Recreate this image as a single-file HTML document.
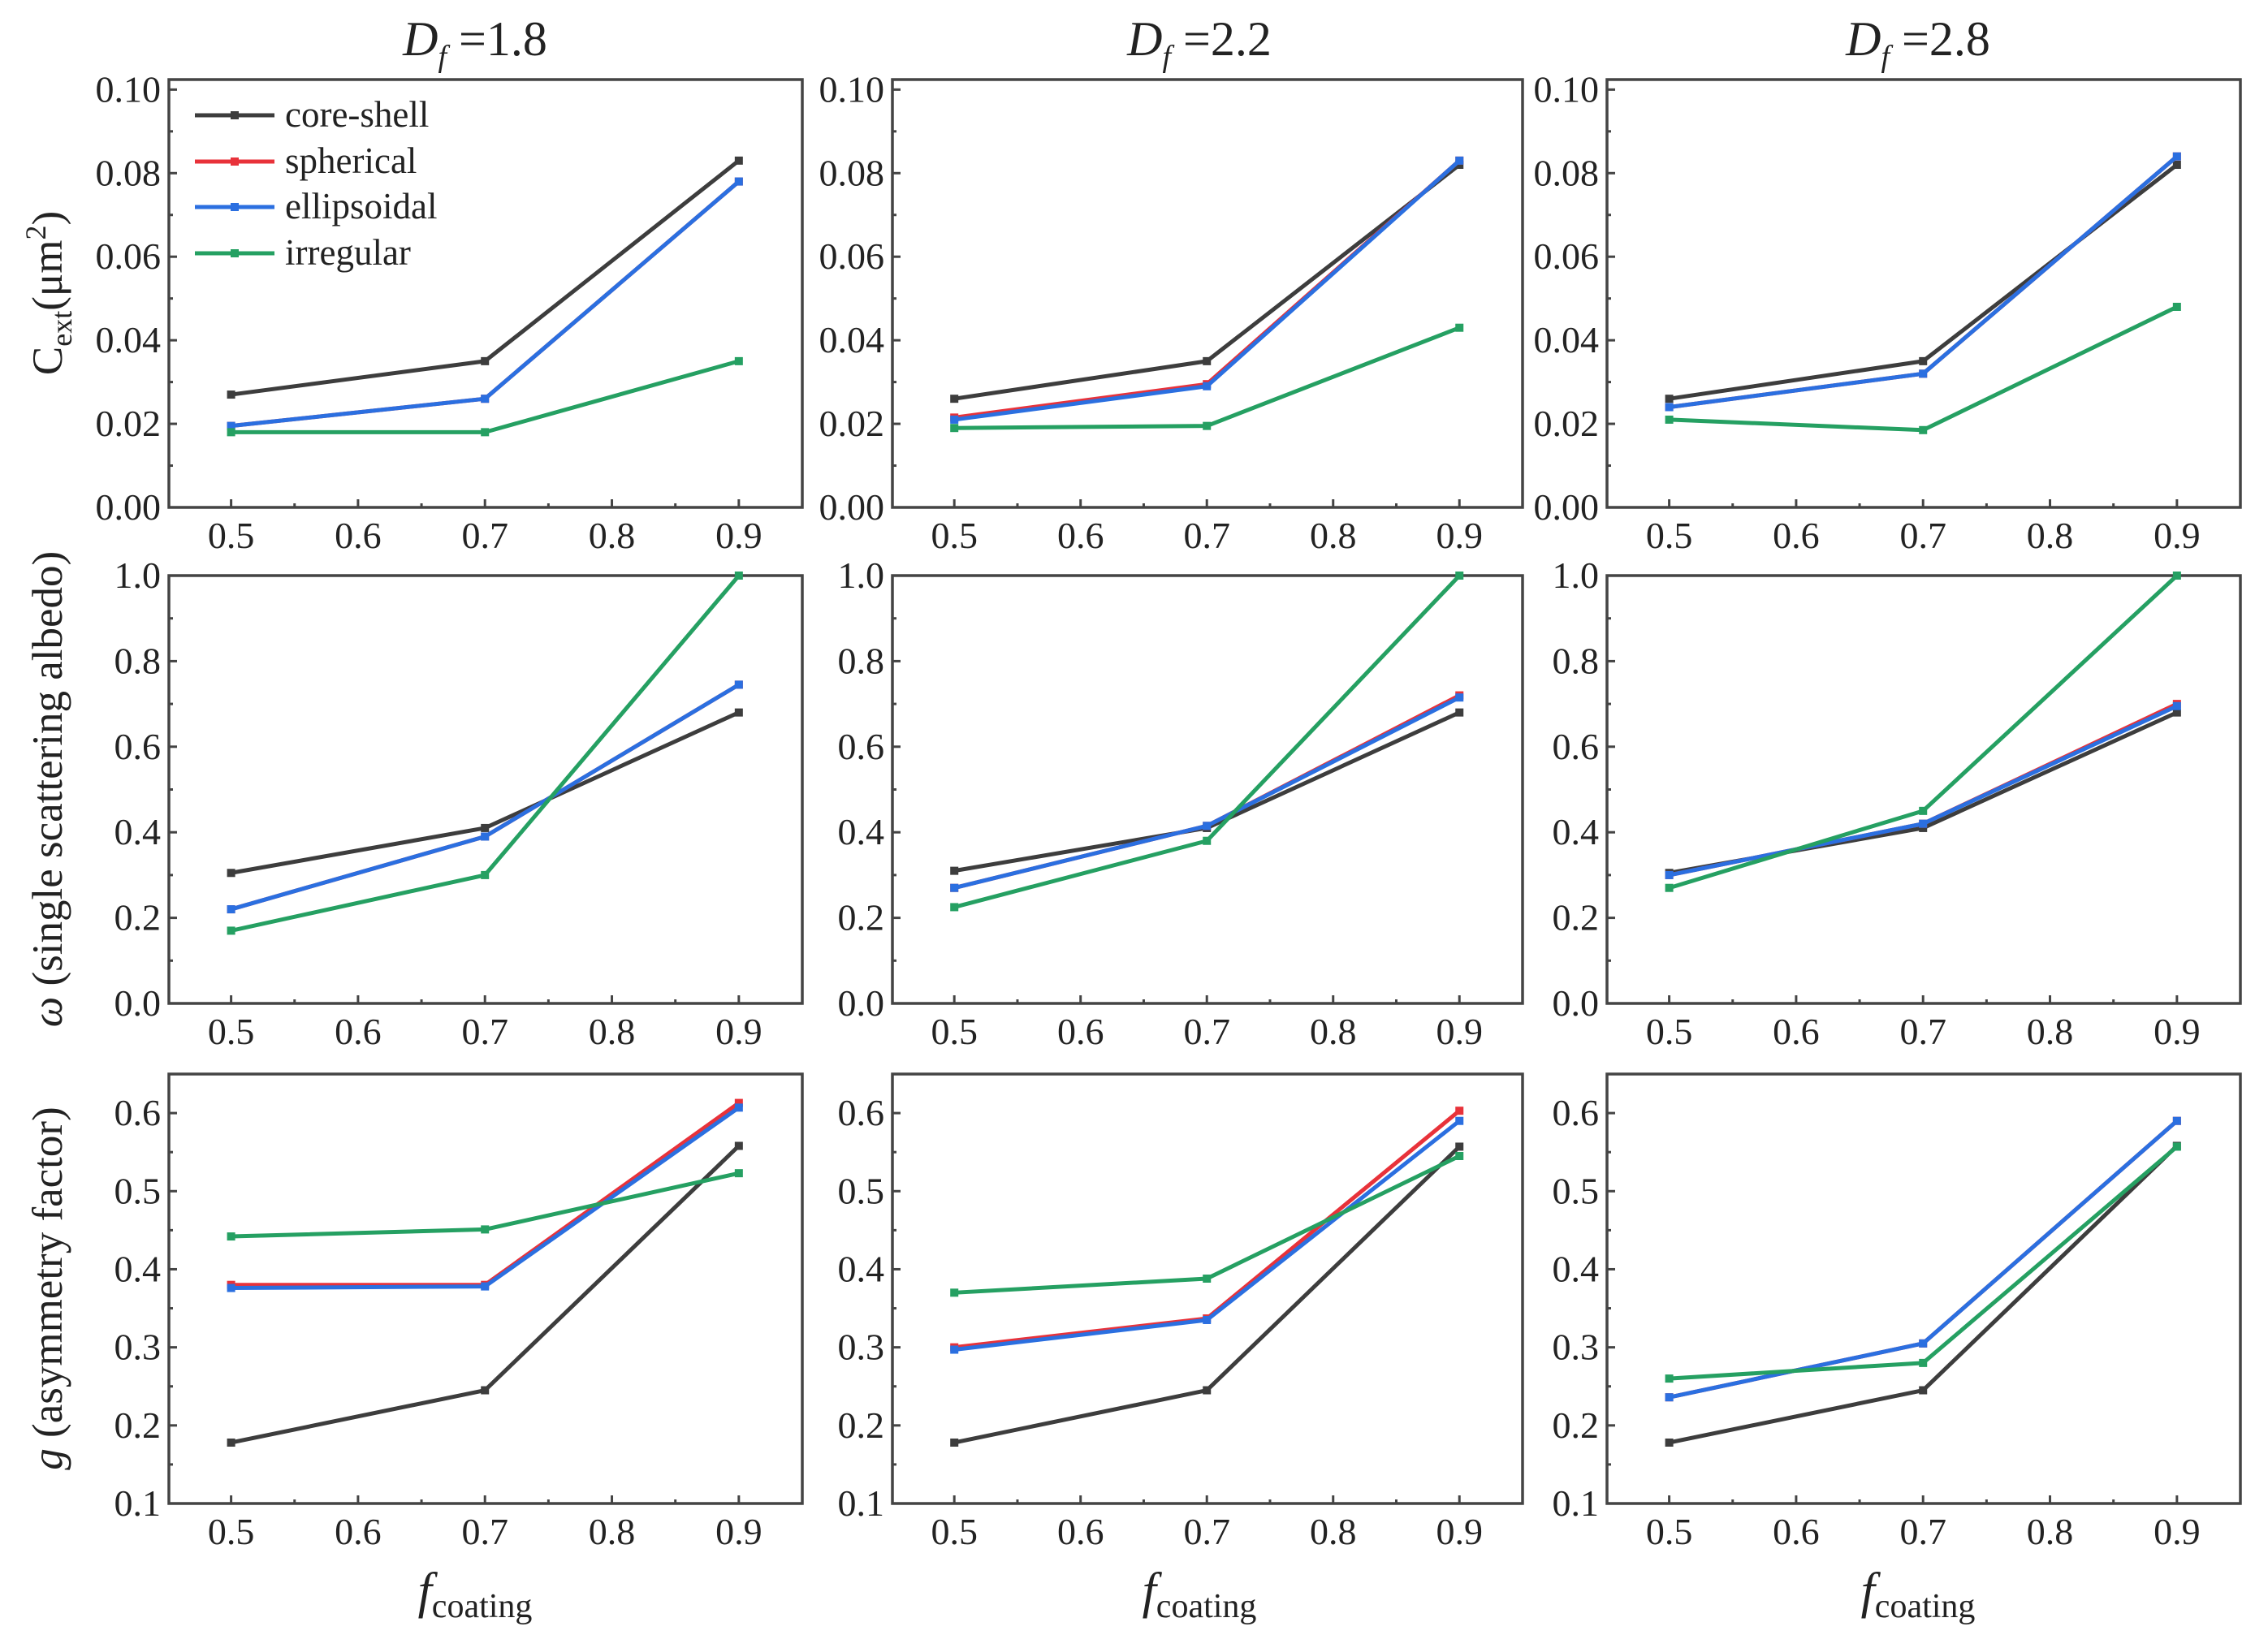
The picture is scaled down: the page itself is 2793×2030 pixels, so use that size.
<!DOCTYPE html>
<html><head><meta charset="utf-8"><style>
html,body{margin:0;padding:0;background:#fff;}
svg{display:block;font-family:"Liberation Serif",serif;}
</style></head><body>
<svg id="fig" width="2793" height="2030" viewBox="0 0 2793 2030" xmlns="http://www.w3.org/2000/svg"></svg>
<script>
const xCats = [0.5, 0.7, 0.9];
const xTicks = [0.5, 0.6, 0.7, 0.8, 0.9];
const seriesNames = ["core-shell","spherical","ellipsoidal","irregular"];
const seriesColors = ["#3d3d3d","#e8323a","#2b6fe0","#25a062"];
const colTitles = ["1.8","2.2","2.8"];
// Row 1: C_ext
const cext_cs = [[0.027,0.035,0.083],[0.026,0.035,0.082],[0.026,0.035,0.082]];
const cext_sph = [[0.0195,0.026,0.078],[0.0215,0.0295,0.083],[0.024,0.032,0.084]];
const cext_ell = [[0.0195,0.026,0.078],[0.021,0.029,0.083],[0.024,0.032,0.084]];
const cext_irr = [[0.018,0.018,0.035],[0.019,0.0195,0.043],[0.021,0.0185,0.048]];
// Row 2: omega
const w_cs = [[0.305,0.41,0.68],[0.31,0.41,0.68],[0.305,0.41,0.68]];
const w_sph = [[0.22,0.39,0.745],[0.27,0.415,0.72],[0.30,0.42,0.70]];
const w_ell = [[0.22,0.39,0.745],[0.27,0.415,0.715],[0.30,0.42,0.695]];
const w_irr = [[0.17,0.30,1.0],[0.225,0.38,1.0],[0.27,0.45,1.0]];
// Row 3: g
const g_cs = [[0.178,0.245,0.558],[0.178,0.245,0.557],[0.178,0.245,0.558]];
const g_sph = [[0.38,0.38,0.613],[0.30,0.337,0.603],[0.236,0.305,0.59]];
const g_ell = [[0.376,0.378,0.607],[0.297,0.335,0.59],[0.236,0.305,0.59]];
const g_irr = [[0.442,0.451,0.523],[0.37,0.388,0.545],[0.26,0.28,0.557]];
const yTicks1 = ["0.00","0.02","0.04","0.06","0.08","0.10"];
const yTicks2 = ["0.0","0.2","0.4","0.6","0.8","1.0"];
const yTicks3 = ["0.1","0.2","0.3","0.4","0.5","0.6"];

const NS="http://www.w3.org/2000/svg";
const svg=document.getElementById('fig');
function mk(tag,attrs,parent){const e=document.createElementNS(NS,tag);for(const k in attrs)e.setAttribute(k,attrs[k]);(parent||svg).appendChild(e);return e;}
const colX=[[208,988],[1099,1875],[1979,2759]];
const rowY=[[98,625],[709,1236],[1323,1852]];
const xDom=[0.451,0.95];
const rows=[
 {dom:[0,0.1024],ticks:yTicks1,minor:0.01,data:[cext_cs,cext_sph,cext_ell,cext_irr],nm:"cext"},
 {dom:[0,1.0],ticks:yTicks2,minor:0.1,data:[w_cs,w_sph,w_ell,w_irr],nm:"albedo"},
 {dom:[0.1,0.65],ticks:yTicks3,minor:0.05,data:[g_cs,g_sph,g_ell,g_irr],nm:"asym"}
];
for(let r=0;r<3;r++){for(let c=0;c<3;c++){
 const R=rows[r];const[x0,x1]=colX[c];const[y0,y1]=rowY[r];
 const sx=v=>x0+(v-xDom[0])/(xDom[1]-xDom[0])*(x1-x0);
 const sy=v=>y1-(v-R.dom[0])/(R.dom[1]-R.dom[0])*(y1-y0);
 const g=mk('g',{});
 
 
 const box=mk('rect',{x:x0,y:y0,width:x1-x0,height:y1-y0,fill:'none',stroke:'#444','stroke-width':3.5},g);
 
 for(let i=0;i<xTicks.length;i++){const X=sx(xTicks[i]);
  mk('line',{x1:X,x2:X,y1:y1,y2:y1-10,stroke:'#444','stroke-width':3},g);
  if(i<xTicks.length-1){const m=sx(xTicks[i]+0.05);mk('line',{x1:m,x2:m,y1:y1,y2:y1-5,stroke:'#444','stroke-width':3},g);}
  const t=mk('text',{x:X,y:y1+50,'text-anchor':'middle','font-size':46,fill:'#222'},g);t.textContent=xTicks[i].toFixed(1);
  }
 for(let i=0;i<R.ticks.length;i++){const v=parseFloat(R.ticks[i]);const Y=sy(v);
  mk('line',{x1:x0,x2:x0+10,y1:Y,y2:Y,stroke:'#444','stroke-width':3},g);
  const mv=v+R.minor; if(mv<R.dom[1]){const mY=sy(mv);mk('line',{x1:x0,x2:x0+5,y1:mY,y2:mY,stroke:'#444','stroke-width':3},g);}
  const t=mk('text',{x:x0-10,y:Y+15,'text-anchor':'end','font-size':46,fill:'#222'},g);t.textContent=R.ticks[i];
  }
 for(let s=0;s<4;s++){const vals=R.data[s][c];
  const pts=xCats.map((x,i)=>sx(x)+','+sy(vals[i])).join(' ');
  const pl=mk('polyline',{points:pts,fill:'none',stroke:seriesColors[s],'stroke-width':5,'stroke-linejoin':'round'},g);
  
  xCats.forEach((x,i)=>{const m=mk('rect',{x:sx(x)-5,y:sy(vals[i])-5,width:10,height:10,fill:seriesColors[s]},g);
   });
 }
}}
const cx=[585,1477,2362];
for(let c=0;c<3;c++){const t=mk('text',{x:cx[c],y:68,'text-anchor':'middle','font-size':60,fill:'#222'});
 t.innerHTML='<tspan font-style="italic">D</tspan><tspan font-style="italic" font-size="38" dy="14">f</tspan><tspan dy="-14"> =</tspan>'+colTitles[c];
 
 const xl=mk('text',{x:cx[c],y:1980,'text-anchor':'middle','font-size':62,fill:'#222'});
 xl.innerHTML='<tspan font-style="italic">f</tspan><tspan font-size="42" dy="12">coating</tspan>';
 }
const yt=[[361,'C<tspan font-size="36" dy="12">ext</tspan><tspan dy="-12">(μm</tspan><tspan font-size="36" dy="-20">2</tspan><tspan dy="20">)</tspan>'],
 [972,'<tspan font-style="italic">ω</tspan> (single scattering albedo)'],
 [1587,'<tspan font-style="italic">g</tspan> (asymmetry factor)']];
yt.forEach(([y,h])=>{const t=mk('text',{x:0,y:0,'text-anchor':'middle','font-size':53,fill:'#222',transform:'translate(76,'+y+') rotate(-90)'});
 t.innerHTML=h;});
const lg=mk('g',{});

const ly=[142,199,255,312];
for(let s=0;s<4;s++){
 mk('line',{x1:240,x2:338,y1:ly[s],y2:ly[s],stroke:seriesColors[s],'stroke-width':5},lg);
 mk('rect',{x:284,y:ly[s]-5,width:10,height:10,fill:seriesColors[s]},lg);
 const t=mk('text',{x:351,y:ly[s]+14,'font-size':45,fill:'#222'},lg);t.textContent=seriesNames[s];
 }
</script>
</body></html>
